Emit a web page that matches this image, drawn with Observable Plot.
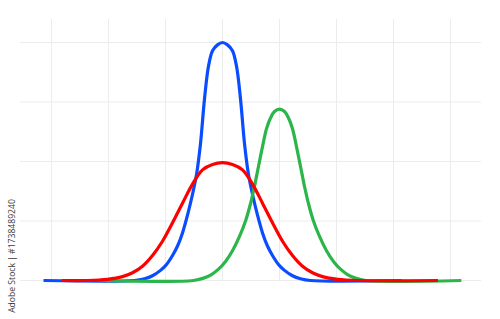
<!DOCTYPE html>
<html>
<head>
<meta charset="utf-8">
<script src="https://cdn.jsdelivr.net/npm/d3@7"></script>
<script src="https://cdn.jsdelivr.net/npm/@observablehq/plot@0.6"></script>
<style>
  html, body { margin: 0; padding: 0; background: #ffffff; }
  #wrap { position: relative; width: 500px; height: 319px; overflow: hidden; }
  #credit {
    position: absolute; left: 12px; top: 256px;
    transform: translate(-50%, -50%) rotate(-90deg);
    font-family: "Open Sans", "DejaVu Sans", sans-serif; font-size: 8.6px;
    color: #3a3a3a; white-space: nowrap; line-height: 1;
  }
</style>
</head>
<body>
<div id="wrap"><div id="credit">Adobe Stock | #1738489240</div></div>
<script>
// Grid positions (x in grid units, y in value units)
const gridX = [-3, -2, -1, 0, 1, 2, 3, 4];
const gridY = [0, 1, 2, 3, 4];

// Blue curve (tall, narrow, centred at 0)
const blueX = [-3.14, -1.544, -1.368, -1.228, -1.088, -0.982, -0.877, -0.789, -0.702, -0.614, -0.526, -0.456, -0.386, -0.316, -0.246, -0.175, -0.088, 0,
               0.088, 0.175, 0.246, 0.316, 0.386, 0.456, 0.526, 0.614, 0.702, 0.789, 0.877, 0.982, 1.088, 1.228, 1.368, 1.544, 3.14];
const blueY = [0, 0, 0.03, 0.08, 0.17, 0.27, 0.42, 0.58, 0.80, 1.10, 1.45, 1.78, 2.30, 3.05, 3.60, 3.86, 3.96, 4.0,
               3.96, 3.86, 3.60, 3.05, 2.30, 1.78, 1.45, 1.10, 0.80, 0.58, 0.42, 0.27, 0.17, 0.08, 0.03, 0, 0];

// Red curve (wide, centred at 0)
const redX = [-2.82, -2.368, -2.018, -1.754, -1.579, -1.404, -1.228, -1.053, -0.877, -0.702, -0.526, -0.351, -0.175, 0,
              0.175, 0.351, 0.526, 0.702, 0.877, 1.053, 1.228, 1.404, 1.579, 1.754, 2.018, 2.368, 3.78];
const redY = [0, 0, 0.02, 0.065, 0.13, 0.24, 0.42, 0.66, 0.97, 1.30, 1.62, 1.86, 1.95, 1.98,
              1.95, 1.86, 1.62, 1.30, 0.97, 0.66, 0.42, 0.24, 0.13, 0.065, 0.02, 0, 0];

// Green curve (medium, centred at 1)
const greenX = [-2.19, -0.509, -0.333, -0.193, -0.070, 0.053, 0.175, 0.298, 0.404, 0.491, 0.561, 0.632, 0.702, 0.772, 0.842, 0.912, 1,
                1.088, 1.158, 1.228, 1.298, 1.368, 1.439, 1.509, 1.596, 1.702, 1.825, 1.947, 2.070, 2.193, 2.333, 2.509, 4.19];
const greenY = [0, 0, 0.04, 0.10, 0.19, 0.32, 0.50, 0.74, 1.00, 1.29, 1.58, 1.92, 2.25, 2.55, 2.73, 2.84, 2.88,
                2.84, 2.73, 2.55, 2.25, 1.92, 1.58, 1.29, 1.00, 0.74, 0.50, 0.32, 0.19, 0.10, 0.04, 0, 0];

const rows = (xs, ys) => xs.map((x, i) => ({x, y: ys[i]}));
const hGrid = gridY.map(y => ({y, x1: -3.544, x2: 4.544}));
const vGrid = gridX.map(x => ({x, y1: 0, y2: 4.387}));

const lineOpts = {x: "x", y: "y", strokeWidth: 3.2, curve: "catmull-rom", strokeLinecap: "butt", strokeLinejoin: "round"};

const chart = Plot.plot({
  width: 500,
  height: 319,
  marginLeft: 51,
  marginRight: 50,
  marginTop: 42,
  marginBottom: 39,
  style: {background: "#ffffff"},
  x: {domain: [-3, 4], axis: null},
  y: {domain: [0, 4], axis: null},
  marks: [
    Plot.ruleY(hGrid, {y: "y", x1: "x1", x2: "x2", stroke: "#ececec", strokeWidth: 1}),
    Plot.ruleX(vGrid, {x: "x", y1: "y1", y2: "y2", stroke: "#ececec", strokeWidth: 1}),
    Plot.line(rows(blueX, blueY), {...lineOpts, stroke: "#0a4cff"}),
    Plot.line(rows(greenX, greenY), {...lineOpts, stroke: "#2bb54a"}),
    Plot.line(rows(redX, redY), {...lineOpts, stroke: "#ff0000"})
  ]
});
document.getElementById("wrap").prepend(chart);
</script>
</body>
</html>
